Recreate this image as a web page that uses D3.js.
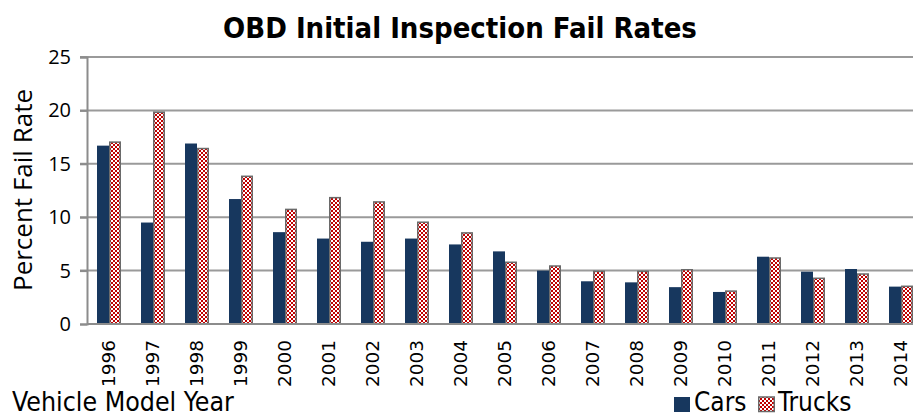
<!DOCTYPE html>
<html>
<head>
<meta charset="utf-8">
<script src="https://cdn.jsdelivr.net/npm/d3@7"></script>
<style>
  body { margin: 0; background: #fff; }
  svg { display: block; }
</style>
</head>
<body>
<svg id="chart" width="913" height="417"></svg>
<script>
var years = ["1996","1997","1998","1999","2000","2001","2002","2003","2004","2005",
             "2006","2007","2008","2009","2010","2011","2012","2013","2014"];
var cars   = [16.7, 9.5, 16.9, 11.7, 8.6, 8.0, 7.7, 8.0, 7.45, 6.8,
              5.0, 4.0, 3.9, 3.45, 3.0, 6.3, 4.9, 5.15, 3.5];
var trucks = [17.1, 19.9, 16.5, 13.9, 10.8, 11.9, 11.5, 9.6, 8.6, 5.85,
              5.5, 5.0, 5.0, 5.15, 3.15, 6.25, 4.35, 4.75, 3.6];
var yTicks = [0, 5, 10, 15, 20, 25];
var seriesNames = ["Cars", "Trucks"];

var CAR_COLOR = "#17375E";
var TRUCK_RED = "#C00000";

var svg = d3.select("#chart");
var plotLeft = 87, plotTop = 57, plotBottom = 324;
var plotW = 44 * years.length;

// checker pattern for trucks
var defs = svg.append("defs");
var pat = defs.append("pattern")
    .attr("id", "checker")
    .attr("patternUnits", "userSpaceOnUse")
    .attr("width", 4).attr("height", 4);
pat.append("rect").attr("width", 4).attr("height", 4).attr("fill", "#fff");
pat.append("rect").attr("width", 2).attr("height", 2).attr("fill", TRUCK_RED);
pat.append("rect").attr("x", 2).attr("y", 2).attr("width", 2).attr("height", 2).attr("fill", TRUCK_RED);

var x0 = d3.scaleBand()
    .domain(years)
    .range([plotLeft, plotLeft + plotW])
    .paddingInner(20 / 44)
    .paddingOuter(10 / 44);
var x1 = d3.scaleBand()
    .domain(seriesNames)
    .range([0, x0.bandwidth()]);
var y = d3.scaleLinear().domain([0, 25]).range([plotBottom, plotTop]);

// gridlines
svg.append("g").selectAll("line")
    .data(yTicks.slice(1))
    .join("line")
    .attr("x1", plotLeft - 7).attr("x2", 913)
    .attr("y1", function(d) { return y(d); })
    .attr("y2", function(d) { return y(d); })
    .style("stroke", "#9a9a9a")
    .style("stroke-width", 2);

// y axis
var yAxis = svg.append("g")
    .attr("transform", "translate(" + plotLeft + ",0)")
    .call(d3.axisLeft(y).tickValues(yTicks).tickSize(7).tickPadding(9));
yAxis.select(".domain").style("stroke", "#8c8c8c").style("stroke-width", 2);
yAxis.selectAll(".tick line").style("stroke", "#8c8c8c").style("stroke-width", 2);
yAxis.selectAll("text")
    .style("font-family", "'Open Sans', sans-serif")
    .style("font-size", "20px")
    .style("fill", "#000");

// bars
var groups = svg.append("g").selectAll("g")
    .data(years)
    .join("g")
    .attr("transform", function(d) { return "translate(" + x0(d) + ",0)"; });

groups.append("rect")
    .attr("x", x1("Cars"))
    .attr("width", x1.bandwidth())
    .attr("y", function(d, i) { return y(cars[i]); })
    .attr("height", function(d, i) { return plotBottom - y(cars[i]); })
    .style("fill", CAR_COLOR);

groups.append("rect")
    .attr("x", x1("Trucks") + 0.75)
    .attr("width", x1.bandwidth() - 1.5)
    .attr("y", function(d, i) { return y(trucks[i]) + 0.75; })
    .attr("height", function(d, i) { return plotBottom - y(trucks[i]) - 0.75; })
    .style("fill", "url(#checker)")
    .style("stroke", "#6a6a6a")
    .style("stroke-width", 1.5);

// x axis (baseline + labels)
var xAxis = svg.append("g")
    .attr("transform", "translate(0," + plotBottom + ")")
    .call(d3.axisBottom(x0).tickSize(0).tickPadding(0));
xAxis.select(".domain").remove();
svg.append("line")
    .attr("x1", plotLeft).attr("x2", 913)
    .attr("y1", plotBottom).attr("y2", plotBottom)
    .style("stroke", "#8c8c8c").style("stroke-width", 2);
xAxis.selectAll("text")
    .attr("transform", "rotate(-90)")
    .attr("x", -16).attr("y", 0).attr("dy", "0.35em")
    .style("text-anchor", "end")
    .style("font-family", "'DejaVu Sans', sans-serif")
    .style("font-size", "18.5px")
    .style("fill", "#000");

// title
svg.append("text")
    .attr("x", 460).attr("y", 38)
    .attr("text-anchor", "middle")
    .style("font-family", "'DejaVu Sans Condensed', 'DejaVu Sans', sans-serif")
    .style("font-weight", "bold")
    .style("font-size", "29px")
    .text("OBD Initial Inspection Fail Rates");

// axis titles
svg.append("text")
    .attr("transform", "translate(32,190) rotate(-90)")
    .attr("text-anchor", "middle")
    .style("font-family", "'Open Sans', sans-serif")
    .style("font-size", "26px")
    .text("Percent Fail Rate");

svg.append("text")
    .attr("x", 12).attr("y", 411)
    .style("font-family", "'DejaVu Sans Condensed', 'DejaVu Sans', sans-serif")
    .style("font-size", "26.5px")
    .text("Vehicle Model Year");

// legend
var legend = svg.append("g");
var legendX = [674, 758];
var legendFill = [CAR_COLOR, "url(#checker)"];
var leg = legend.selectAll("g")
    .data(seriesNames)
    .join("g")
    .attr("transform", function(d, i) { return "translate(" + legendX[i] + ",0)"; });
leg.append("rect")
    .attr("x", function(d, i) { return i ? 0.75 : 0; })
    .attr("y", 397)
    .attr("width", function(d, i) { return i ? 15.5 : 16; })
    .attr("height", function(d, i) { return i ? 14.5 : 15; })
    .style("fill", function(d, i) { return legendFill[i]; })
    .style("stroke", function(d, i) { return i ? "#6a6a6a" : "none"; })
    .style("stroke-width", 1.5);
leg.append("text")
    .attr("x", 20).attr("y", 411)
    .style("font-family", "'DejaVu Sans Condensed', 'DejaVu Sans', sans-serif")
    .style("font-size", "26px")
    .text(function(d) { return d; });
</script>
</body>
</html>
